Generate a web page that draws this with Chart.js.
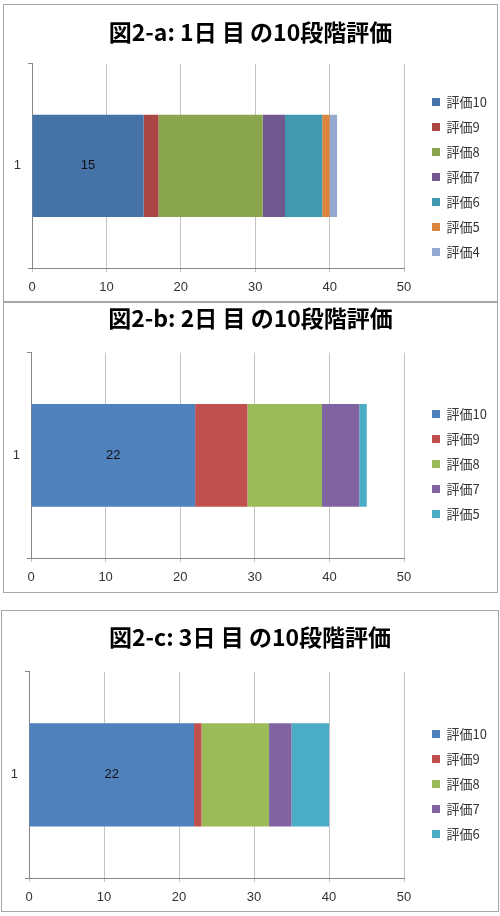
<!DOCTYPE html>
<html>
<head>
<meta charset="utf-8">
<script src="https://cdn.jsdelivr.net/npm/chart.js@4.4.0/dist/chart.umd.min.js"></script>
<style>
  body { margin: 0; background: #fff; width: 500px; height: 916px; position: relative; }
  .box { position: absolute; box-sizing: border-box; border: 1px solid #a6a6a6; background: #fff; }
  .box canvas { display: block; }
</style>
</head>
<body>
<div class="box" id="boxA" style="left:3px; top:4px; width:495px; height:298px;"><canvas id="chartA" width="493" height="296"></canvas></div>
<div class="box" id="boxB" style="left:3px; top:302px; width:495px; height:291px;"><canvas id="chartB" width="493" height="289"></canvas></div>
<div class="box" id="boxC" style="left:1px; top:610px; width:498px; height:302px;"><canvas id="chartC" width="496" height="300"></canvas></div>
<script>
// data
const categories = ['1'];
const xTicks = [0, 10, 20, 30, 40, 50];

const titleA = '図2-a: 1日 目 の10段階評価';
const labelsA = ['評価10', '評価9', '評価8', '評価7', '評価6', '評価5', '評価4'];
const valuesA = [15, 2, 14, 3, 5, 1, 1];
const colorsA = ['#4572A7', '#AA4643', '#89A54E', '#71588F', '#4198AF', '#DB843D', '#93A9CF'];

const titleB = '図2-b: 2日 目 の10段階評価';
const labelsB = ['評価10', '評価9', '評価8', '評価7', '評価5'];
const valuesB = [22, 7, 10, 5, 1];
const colorsB = ['#4F81BD', '#C0504D', '#9BBB59', '#8064A2', '#4BACC6'];

const titleC = '図2-c: 3日 目 の10段階評価';
const labelsC = ['評価10', '評価9', '評価8', '評価7', '評価6'];
const valuesC = [22, 1, 9, 3, 5];
const colorsC = ['#4F81BD', '#C0504D', '#9BBB59', '#8064A2', '#4BACC6'];

Chart.defaults.animation = false;
Chart.defaults.font.family = '"Liberation Sans", "Noto Sans CJK JP", sans-serif';

// value label on the first segment only
const firstLabel = {
    id: 'firstLabel',
    afterDatasetsDraw(chart) {
        const ctx = chart.ctx;
        const meta = chart.getDatasetMeta(0);
        meta.data.forEach((bar, i) => {
            ctx.save();
            ctx.font = '13px "Liberation Sans", sans-serif';
            ctx.fillStyle = '#111';
            ctx.textAlign = 'center';
            ctx.textBaseline = 'middle';
            ctx.fillText(chart.data.datasets[0].data[i], (bar.x + bar.base) / 2, bar.y);
            ctx.restore();
        });
    }
};

// put the legend where Excel had it, title centred on the whole box
const legendPlace = {
    id: 'legendPlace',
    afterLayout(chart, args, opts) {
        const lg = chart.legend;
        const pad = lg.options.labels.padding;
        lg.left = opts.x - pad;
        lg.right = lg.left + lg.width;
        lg.top = opts.y - 6.5 - pad;
        lg.bottom = chart.height + 200;
        chart.titleBlock.left = 0;
        chart.titleBlock.right = chart.width;
    }
};

function makeChart(id, title, labels, values, colors, cfg) {
    const datasets = labels.map((l, i) => ({
        label: l,
        data: [values[i]],
        backgroundColor: colors[i],
        borderWidth: 0,
        barPercentage: 0.5,
        categoryPercentage: 1
    }));
    return new Chart(document.getElementById(id), {
        type: 'bar',
        data: { labels: categories, datasets: datasets },
        plugins: [firstLabel, legendPlace],
        options: {
            indexAxis: 'y',
            responsive: false,
            layout: { padding: { left: 0, right: cfg.padRight, top: 0, bottom: 0 } },
            plugins: {
                title: {
                    display: true,
                    text: title,
                    color: '#000',
                    font: { family: '"Noto Sans CJK JP", sans-serif', size: 23, weight: 'bold' },
                    padding: { top: cfg.titleTop, bottom: cfg.titleBottom }
                },
                legend: {
                    position: 'right',
                    align: 'start',
                    labels: {
                        boxWidth: 8,
                        boxHeight: 8,
                        padding: 12,
                        color: '#333',
                        font: { family: '"Noto Sans CJK JP", sans-serif', size: 13 }
                    }
                },
                legendPlace: { x: cfg.legendX, y: cfg.legendY },
                tooltip: { enabled: false }
            },
            scales: {
                x: {
                    stacked: true,
                    min: 0,
                    max: 50,
                    afterBuildTicks: (axis) => { axis.ticks = xTicks.map(v => ({ value: v })); },
                    grid: { color: '#c4c4c4', tickLength: 4 },
                    border: { color: '#868686' },
                    ticks: { color: '#333', font: { size: 13 }, padding: 8 },
                    afterFit: (axis) => { axis.height = cfg.xHeight; }
                },
                y: {
                    stacked: true,
                    grid: { offset: true, drawOnChartArea: false, color: '#868686', tickLength: 4 },
                    border: { color: '#868686' },
                    ticks: { color: '#333', font: { size: 13 }, padding: 7 },
                    afterFit: (axis) => { axis.width = cfg.yWidth; }
                }
            }
        }
    });
}

makeChart('chartA', titleA, labelsA, valuesA, colorsA,
    { padRight: 16, titleTop: 13, titleBottom: 18, xHeight: 33, yWidth: 28, legendX: 428, legendY: 97 });
makeChart('chartB', titleB, labelsB, valuesB, colorsB,
    { padRight: 16, titleTop: 1, titleBottom: 21, xHeight: 34, yWidth: 27, legendX: 428, legendY: 111 });
makeChart('chartC', titleC, labelsC, valuesC, colorsC,
    { padRight: 17, titleTop: 12, titleBottom: 21, xHeight: 33, yWidth: 27, legendX: 430, legendY: 123 });
</script>
</body>
</html>
